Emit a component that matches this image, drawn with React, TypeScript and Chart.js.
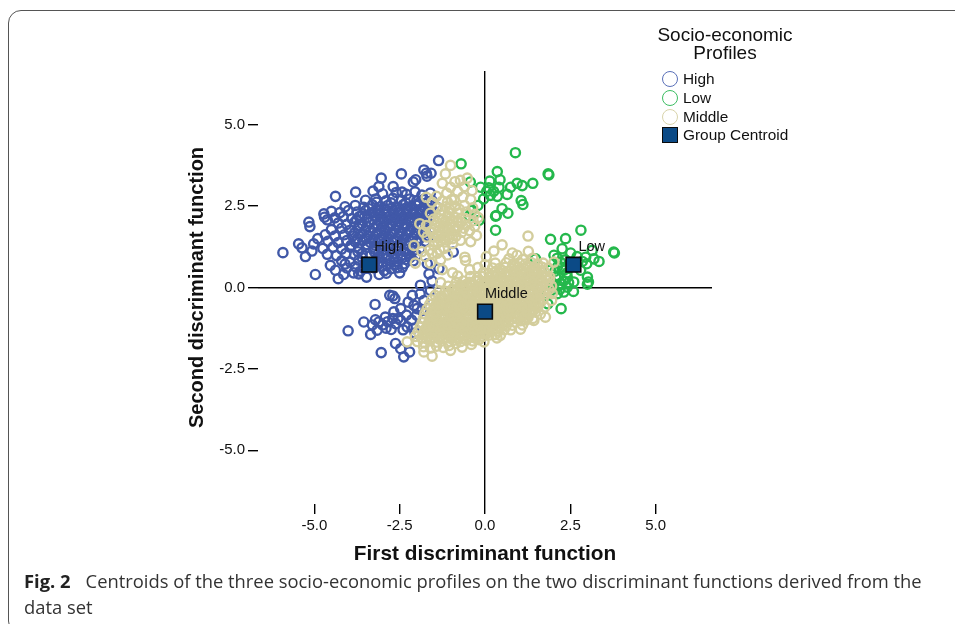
import React, { useEffect, useRef } from "react";
import { Chart, registerables } from "chart.js";

Chart.register(...registerables);

const axisTicks = [-5, -2.5, 0, 2.5, 5];
const centroidNames = ["High", "Low", "Middle"];
const centroids = [[-3.39, 0.7], [2.59, 0.7], [0.0, -0.74]];

const highOutliers = [[-1.36,3.9],[-1.79,3.61],[-1.58,3.51],[-1.72,3.51],[-1.7,3.42],[-2.45,3.49],[-3.04,3.36],[-2.03,3.31],[-2.1,3.24],[-2.69,3.1],[-3.11,3.1],[-3.79,2.93],[-3.28,2.96],[-4.38,2.8],[-2.43,2.93],[-4.72,2.26],[-4.7,2.16],[-4.62,2.08],[-5.16,2.01],[-5.13,1.87],[-5.46,1.34],[-5.92,1.07],[-5.36,1.22],[-5.26,0.95],[-5.07,1.12],[-5.02,1.34],[-4.9,1.5],[-4.97,0.4],[-4.53,0.68],[-4.38,0.53],[-4.3,0.27],[-4.14,0.4],[-3.7,0.42],[-3.47,0.32],[-2.89,0.44],[-2.57,0.61],[-2.36,0.73],[-0.93,1.09],[-1.69,0.73],[-1.35,0.58],[-1.64,0.42],[-1.55,0.2]];
const highLower = [[-2.79,-0.24],[-2.7,-0.26],[-2.64,-0.34],[-3.22,-0.52],[-1.89,0.07],[-2.13,-0.24],[-2.47,-0.65],[-2.67,-0.75],[-3.55,-1.06],[-4.01,-1.33],[-3.35,-1.44],[-3.16,-1.31],[-3.21,-0.99],[-2.92,-0.91],[-3.11,-1.06],[-2.75,-1.29],[-2.62,-1.11],[-2.28,-1.21],[-2.47,-1.01],[-1.99,-0.65],[-2.08,-0.55],[-1.79,-0.96],[-3.04,-2.0],[-2.62,-1.72],[-2.47,-1.88],[-2.38,-2.13],[-2.21,-1.98],[-1.79,-0.4],[-1.6,-0.09],[-3.0,-1.15],[-2.85,-1.05],[-2.55,-0.95],[-2.3,-0.85],[-2.15,-1.0],[-2.0,-0.85],[-2.1,-1.25],[-1.9,-0.2],[-2.25,-0.45],[-2.4,-1.3],[-2.9,-1.25],[-3.3,-1.15],[-2.7,-0.95],[-1.85,-0.7],[-2.05,-1.4]];
const highMass = [
[-3.0,2.88],[-2.6,2.92],[-2.3,2.86],[-2.05,2.94],[-1.85,2.84],[-1.6,2.9],
[-3.5,2.68],[-3.2,2.72],[-2.9,2.66],[-2.7,2.74],[-2.45,2.68],[-2.2,2.72],[-2.0,2.66],[-1.8,2.7],[-1.55,2.66],
[-4.1,2.48],[-3.8,2.52],[-3.55,2.46],[-3.3,2.54],[-3.05,2.48],[-2.85,2.52],[-2.6,2.46],[-2.4,2.54],[-2.2,2.48],[-2.0,2.52],[-1.8,2.46],[-1.6,2.52],[-1.4,2.46],
[-4.5,2.34],[-4.25,2.3],[-4.0,2.36],[-3.75,2.32],[-3.5,2.36],[-3.3,2.3],[-3.1,2.36],[-2.9,2.32],[-2.7,2.36],[-2.5,2.3],[-2.3,2.36],[-2.1,2.32],[-1.9,2.36],[-1.7,2.3],[-1.5,2.34],
[-4.4,2.14],[-4.15,2.18],[-3.9,2.12],[-3.68,2.18],[-3.45,2.14],[-3.22,2.18],[-3.0,2.12],[-2.8,2.18],[-2.6,2.14],[-2.4,2.18],[-2.2,2.12],[-2.0,2.18],[-1.8,2.14],[-1.6,2.18],
[-4.3,1.98],[-4.05,1.94],[-3.82,2.0],[-3.6,1.96],[-3.38,2.0],[-3.15,1.94],[-2.95,2.0],[-2.72,1.96],[-2.5,2.0],[-2.3,1.94],[-2.08,2.0],[-1.88,1.96],[-1.68,2.0],
[-4.5,1.78],[-4.2,1.82],[-3.95,1.76],[-3.72,1.82],[-3.5,1.78],[-3.28,1.82],[-3.05,1.76],[-2.85,1.82],[-2.62,1.78],[-2.4,1.82],[-2.18,1.76],[-1.96,1.82],[-1.75,1.78],
[-4.68,1.62],[-4.4,1.58],[-4.12,1.62],[-3.88,1.58],[-3.65,1.64],[-3.42,1.58],[-3.2,1.62],[-2.98,1.58],[-2.75,1.64],[-2.52,1.58],[-2.3,1.62],[-2.08,1.58],[-1.85,1.62],[-1.65,1.58],
[-4.6,1.42],[-4.3,1.38],[-4.05,1.44],[-3.8,1.4],[-3.58,1.44],[-3.35,1.38],[-3.12,1.44],[-2.9,1.4],[-2.68,1.44],[-2.45,1.38],[-2.22,1.44],[-2.0,1.4],[-1.75,1.42],
[-4.75,1.2],[-4.45,1.24],[-4.2,1.18],[-3.95,1.24],[-3.7,1.2],[-3.48,1.24],[-3.25,1.18],[-3.02,1.24],[-2.8,1.2],[-2.58,1.24],[-2.35,1.18],[-2.12,1.24],[-1.9,1.2],
[-4.62,1.02],[-4.35,0.98],[-4.08,1.04],[-3.82,1.0],[-3.6,1.04],[-3.35,0.98],[-3.12,1.04],[-2.9,1.0],[-2.68,1.04],[-2.45,0.98],[-2.22,1.04],[-2.0,1.0],
[-4.2,0.82],[-3.95,0.78],[-3.7,0.84],[-3.5,0.78],[-3.2,0.84],[-3.0,0.78],[-2.78,0.84],[-2.55,0.8],[-2.32,0.86],[-2.1,0.82],
[-4.05,0.6],[-3.8,0.64],[-3.55,0.58],[-3.25,0.6],[-3.02,0.64],[-2.75,0.58],[-2.5,0.45],[-3.85,0.45],[-3.1,0.4]
];
const highFill = [
[-3.18,2.62],[-2.75,2.6],[-2.32,2.6],[-1.92,2.6],[-1.7,2.58],
[-3.4,2.42],[-3.18,2.4],[-2.95,2.42],[-2.72,2.44],[-2.5,2.4],[-2.28,2.44],[-2.08,2.4],[-1.85,2.4],[-1.6,2.42],
[-3.58,2.26],[-3.12,2.26],[-2.9,2.24],[-2.68,2.26],[-2.48,2.24],[-2.28,2.26],[-2.08,2.24],[-1.88,2.26],[-1.68,2.22],
[-3.76,2.08],[-3.28,2.08],[-3.08,2.06],[-2.86,2.08],[-2.66,2.06],[-2.42,2.08],[-2.2,2.04],[-1.98,2.08],[-1.76,2.06],
[-3.68,1.9],[-3.46,1.88],[-3.0,1.88],[-2.8,1.9],[-2.56,1.88],[-2.36,1.9],[-2.14,1.88],[-1.92,1.9],[-1.72,1.88],
[-3.82,1.68],[-3.38,1.7],[-3.14,1.68],[-2.92,1.72],[-2.7,1.7],[-2.48,1.68],[-2.26,1.72],[-2.04,1.7],[-1.84,1.7],
[-3.74,1.5],[-3.5,1.52],[-3.28,1.5],[-3.06,1.5],[-2.84,1.52],[-2.6,1.5],[-2.38,1.5],[-2.14,1.52],[-1.92,1.5],
[-3.92,1.3],[-3.46,1.32],[-3.22,1.3],[-3.0,1.32],[-2.78,1.32],[-2.54,1.3],[-2.32,1.32],[-2.08,1.3],
[-3.72,1.1],[-3.24,1.1],[-3.02,1.12],[-2.78,1.1],[-2.56,1.12],[-2.34,1.1],[-2.12,1.12],
[-3.6,0.92],[-3.1,0.92],[-2.88,0.9],[-2.66,0.92],[-2.44,0.9],[-2.2,0.92],
[-4.1,0.72],[-3.12,0.72],[-2.88,0.7],[-2.66,0.7],[-2.42,0.62],[-2.95,0.52],[-3.65,0.5]
];

const lowPoints = [[0.89,4.14],[-0.7,3.8],[0.36,3.56],[1.85,3.49],[1.87,3.46],[0.44,3.31],[0.14,3.27],[1.4,3.2],[0.94,3.2],[1.09,3.13],[0.75,3.08],[-0.43,3.24],[-0.13,3.08],[0.11,3.06],[0.41,3.08],[0.65,2.86],[0.36,2.8],[0.16,2.83],[-0.04,2.72],[-0.21,2.52],[1.06,2.67],[1.11,2.55],[0.5,2.42],[0.67,2.28],[0.33,2.21],[0.31,2.19],[-0.38,2.37],[-0.18,2.06],[-0.46,2.2],[0.05,2.95],[0.25,2.95],[0.31,1.76],[2.81,1.76],[1.92,1.48],[2.36,1.5],[2.26,1.19],[2.51,1.06],[3.77,1.09],[3.79,1.06],[3.14,1.14],[3.34,0.8],[3.19,0.88],[2.98,0.73],[1.48,0.88],[2.02,0.99],[2.21,0.78],[2.12,0.63],[2.31,0.53],[1.92,0.53],[2.07,0.32],[2.41,0.32],[2.6,0.17],[2.21,0.12],[2.41,0.01],[2.31,-0.14],[2.59,-0.12],[3.0,0.32],[3.03,0.17],[3.0,0.1],[2.8,0.53],[2.95,0.93],[1.84,-0.5],[2.23,-0.65],[2.12,-0.19],[1.82,-0.19],[2.0,0.1],[2.15,0.35],[2.3,0.2],[2.05,0.5],[2.25,0.62],[2.4,0.45],[2.35,0.85],[2.12,0.9],[2.7,0.95],[2.85,0.8],[2.0,-0.05],[2.2,-0.05],[2.45,0.15],[2.15,0.05]];

const middleOutliers = [[-1.01,3.75],[-1.16,3.49],[-0.52,3.36],[-0.72,3.29],[-1.01,3.08],[-0.38,2.98],[1.26,1.58],[0.5,1.31],[0.26,1.12],[-0.25,1.6],[-0.42,1.41],[-0.72,1.45],[-0.59,0.93],[-0.57,0.83],[0.04,0.95],[-0.21,0.61],[1.27,1.11],[0.8,1.06],[0.94,0.99],[-1.33,1.16],[-1.5,1.29],[-2.04,0.75],[-2.08,1.29],[-1.91,1.96],[-1.72,2.77],[-2.28,-1.67],[-1.55,-2.11],[-1.79,-1.98],[-1.01,-1.93],[-0.67,-1.83],[1.77,-0.91],[1.43,-1.01],[1.04,-1.28],[0.45,-1.47],[-0.03,-1.67],[1.97,-0.19],[2.02,0.78],[1.82,0.32],[-1.75,0.95],[-1.85,1.1],[-1.6,0.75],[-1.3,0.85],[-1.1,1.0],[-1.55,1.05],[-1.25,0.55],[-0.95,0.45],
[1.75,-0.6],[1.62,-0.82],[1.4,-0.95],[1.1,-1.15],[0.75,-1.3],[0.35,-1.55],[-0.4,-1.75],[1.95,-0.4],[0.3,0.75],[0.0,0.7],[-0.45,0.55],[-0.8,0.35],[-1.3,0.15],[1.7,0.75],[1.85,0.6]];
const middleUpper = [
[-1.25,3.2],[-0.88,3.25],[-0.6,3.1],[-0.8,2.95],[-1.12,2.9],[-1.42,2.8],[-1.55,2.62],[-1.25,2.65],[-0.98,2.7],[-0.65,2.78],[-0.42,2.7],[-1.38,2.45],[-1.15,2.48],[-0.88,2.5],[-0.6,2.52],[-0.36,2.45],[-1.6,2.28],[-1.32,2.25],[-1.05,2.3],[-0.8,2.28],[-0.55,2.32],[-0.3,2.25],[-1.5,2.1],[-1.25,2.08],[-1.02,2.12],[-0.8,2.06],[-0.58,2.12],[-0.35,2.05],[-1.72,1.9],[-1.45,1.92],[-1.22,1.88],[-1.0,1.94],[-0.78,1.88],[-0.55,1.92],[-0.3,1.88],[-1.6,1.72],[-1.35,1.75],[-1.12,1.7],[-0.9,1.75],[-0.68,1.7],[-0.45,1.75],[-1.5,1.55],[-1.28,1.58],[-1.05,1.52],[-0.85,1.58],[-1.38,1.38],[-1.15,1.4],[-0.95,1.35],[-1.7,1.55],[-1.8,1.7],[-1.4,2.0],[-1.1,2.2],[-0.9,2.15],[-1.2,1.8],[-1.0,1.65],[-1.3,1.45],[-1.62,1.15],[-1.4,1.05],[-1.2,1.2],[-0.2,2.15],
[-1.35,2.12],[-1.18,2.02],[-0.95,2.02],[-0.7,2.0],[-1.5,1.8],[-1.3,1.68],[-1.08,1.82],[-0.88,1.85],[-0.62,1.82],[-1.42,1.62],[-1.18,1.6],[-0.95,1.5],[-1.2,1.5],[-1.48,1.42],[-1.05,2.42],[-0.75,2.4],[-1.25,2.38],[-0.9,2.7],[-1.1,2.62]
];
const middleMass = [
[-1.8,-1.82],[-1.6,-1.86],[-1.42,-1.8],[-1.22,-1.84],[-1.05,-1.78],[-0.85,-1.72],
[-1.98,-1.66],[-1.8,-1.68],[-1.62,-1.64],[-1.44,-1.68],[-1.26,-1.64],[-1.08,-1.68],[-0.9,-1.62],[-0.72,-1.66],[-0.54,-1.62],[-0.36,-1.64],[-0.18,-1.6],
[-2.04,-1.5],[-1.86,-1.54],[-1.68,-1.5],[-1.5,-1.54],[-1.32,-1.5],[-1.14,-1.54],[-0.96,-1.5],[-0.78,-1.52],[-0.6,-1.48],[-0.42,-1.52],[-0.24,-1.48],[-0.06,-1.5],[0.12,-1.46],[0.3,-1.44],
[-1.96,-1.36],[-1.78,-1.38],[-1.6,-1.36],[-1.42,-1.38],[-1.24,-1.36],[-1.06,-1.38],[-0.88,-1.36],[-0.7,-1.38],[-0.52,-1.34],[-0.34,-1.38],[-0.16,-1.34],[0.02,-1.36],[0.2,-1.32],[0.38,-1.34],[0.56,-1.3],
[-1.9,-1.22],[-1.72,-1.24],[-1.54,-1.2],[-1.36,-1.24],[-1.18,-1.2],[-1.0,-1.24],[-0.82,-1.2],[-0.64,-1.24],[-0.46,-1.2],[-0.28,-1.24],[-0.1,-1.2],[0.08,-1.22],[0.26,-1.18],[0.44,-1.22],[0.62,-1.18],[0.8,-1.16],
[-1.84,-1.08],[-1.66,-1.1],[-1.48,-1.06],[-1.3,-1.1],[-1.12,-1.06],[-0.94,-1.1],[-0.76,-1.06],[-0.58,-1.1],[-0.4,-1.06],[-0.22,-1.1],[-0.04,-1.06],[0.14,-1.08],[0.32,-1.04],[0.5,-1.08],[0.68,-1.04],[0.86,-1.06],[1.04,-1.02],[1.2,-1.0],
[-1.8,-0.94],[-1.62,-0.96],[-1.44,-0.92],[-1.26,-0.96],[-1.08,-0.92],[-0.9,-0.96],[-0.72,-0.92],[-0.54,-0.96],[-0.36,-0.92],[-0.18,-0.96],[0.0,-0.92],[0.18,-0.94],[0.36,-0.9],[0.54,-0.94],[0.72,-0.9],[0.9,-0.94],[1.08,-0.9],[1.26,-0.92],
[-1.76,-0.8],[-1.58,-0.82],[-1.4,-0.78],[-1.22,-0.82],[-1.04,-0.78],[-0.86,-0.82],[-0.68,-0.78],[-0.5,-0.82],[-0.32,-0.78],[-0.14,-0.82],[0.04,-0.78],[0.22,-0.8],[0.4,-0.76],[0.58,-0.8],[0.76,-0.76],[0.94,-0.8],[1.12,-0.76],[1.3,-0.8],[1.48,-0.76],
[-1.7,-0.66],[-1.52,-0.68],[-1.34,-0.64],[-1.16,-0.68],[-0.98,-0.64],[-0.8,-0.68],[-0.62,-0.64],[-0.44,-0.68],[-0.26,-0.64],[-0.08,-0.68],[0.1,-0.64],[0.28,-0.66],[0.46,-0.62],[0.64,-0.66],[0.82,-0.62],[1.0,-0.66],[1.18,-0.62],[1.36,-0.66],[1.54,-0.62],
[-1.62,-0.52],[-1.44,-0.54],[-1.26,-0.5],[-1.08,-0.54],[-0.9,-0.5],[-0.72,-0.54],[-0.54,-0.5],[-0.36,-0.54],[-0.18,-0.5],[0.0,-0.54],[0.18,-0.5],[0.36,-0.52],[0.54,-0.48],[0.72,-0.52],[0.9,-0.48],[1.08,-0.52],[1.26,-0.48],[1.44,-0.52],[1.62,-0.48],
[-1.56,-0.38],[-1.38,-0.4],[-1.2,-0.36],[-1.02,-0.4],[-0.84,-0.36],[-0.66,-0.4],[-0.48,-0.36],[-0.3,-0.4],[-0.12,-0.36],[0.06,-0.4],[0.24,-0.36],[0.42,-0.38],[0.6,-0.34],[0.78,-0.38],[0.96,-0.34],[1.14,-0.38],[1.32,-0.34],[1.5,-0.38],[1.7,-0.36],
[-1.46,-0.24],[-1.28,-0.26],[-1.1,-0.22],[-0.92,-0.26],[-0.74,-0.22],[-0.56,-0.26],[-0.38,-0.22],[-0.2,-0.26],[-0.02,-0.22],[0.16,-0.26],[0.34,-0.22],[0.52,-0.24],[0.7,-0.2],[0.88,-0.24],[1.06,-0.2],[1.24,-0.24],[1.42,-0.2],[1.6,-0.24],[1.78,-0.2],
[-1.34,-0.1],[-1.16,-0.12],[-0.98,-0.08],[-0.8,-0.12],[-0.62,-0.08],[-0.44,-0.12],[-0.26,-0.08],[-0.08,-0.12],[0.1,-0.08],[0.28,-0.12],[0.46,-0.08],[0.64,-0.1],[0.82,-0.06],[1.0,-0.1],[1.18,-0.06],[1.36,-0.1],[1.54,-0.06],[1.72,-0.1],[1.88,-0.06],
[-1.08,0.04],[-0.9,0.02],[-0.72,0.06],[-0.54,0.02],[-0.36,0.06],[-0.18,0.02],[0.0,0.06],[0.18,0.02],[0.36,0.06],[0.54,0.04],[0.72,0.08],[0.9,0.04],[1.08,0.08],[1.26,0.04],[1.44,0.08],[1.62,0.04],[1.8,0.08],[1.95,0.04],
[-0.84,0.16],[-0.64,0.2],[-0.46,0.16],[-0.28,0.2],[-0.1,0.16],[0.08,0.2],[0.26,0.16],[0.44,0.2],[0.62,0.18],[0.8,0.22],[0.98,0.18],[1.16,0.22],[1.34,0.18],[1.52,0.22],[1.7,0.18],[1.88,0.22],
[-0.42,0.34],[-0.22,0.3],[-0.04,0.34],[0.14,0.3],[0.32,0.34],[0.5,0.3],[0.68,0.34],[0.86,0.3],[1.04,0.34],[1.22,0.3],[1.4,0.34],[1.58,0.3],[1.76,0.34],[1.9,0.32],
[-0.05,0.46],[0.12,0.44],[0.3,0.48],[0.48,0.44],[0.66,0.48],[0.84,0.44],[1.02,0.48],[1.2,0.44],[1.38,0.48],[1.56,0.44],[1.74,0.48],
[0.22,0.6],[0.42,0.58],[0.6,0.62],[0.78,0.58],[0.96,0.62],[1.14,0.58],[1.32,0.62],[1.5,0.58],[1.68,0.62],
[0.62,0.76],[0.82,0.72],[1.0,0.76],[1.18,0.72],[1.36,0.76],[1.54,0.72],[0.7,0.88],[1.1,0.86],[1.4,0.9]
];
const middleFill = [
[-1.72,-1.57],[-1.35,-1.58],[-0.99,-1.57],[-0.63,-1.56],[-0.27,-1.56],
[-1.77,-1.45],[-1.41,-1.45],[-1.05,-1.45],[-0.69,-1.45],[-0.33,-1.45],[0.03,-1.43],
[-1.67,-1.31],[-1.49,-1.29],[-1.31,-1.31],[-1.13,-1.29],[-0.95,-1.31],[-0.77,-1.29],[-0.59,-1.31],[-0.41,-1.28],[-0.23,-1.3],[-0.05,-1.28],[0.13,-1.3],[0.31,-1.27],
[-1.63,-1.17],[-1.27,-1.17],[-1.09,-1.14],[-0.91,-1.17],[-0.55,-1.17],[-0.37,-1.14],[-0.19,-1.17],[0.17,-1.15],[0.35,-1.12],[0.53,-1.15],
[-1.57,-1.03],[-1.39,-1.0],[-1.03,-1.0],[-0.85,-1.03],[-0.67,-1.0],[-0.31,-1.0],[-0.13,-1.03],[0.05,-1.0],[0.41,-0.98],[0.59,-1.01],[0.77,-0.98],[1.13,-0.97],
[-1.52,-0.89],[-1.16,-0.89],[-0.98,-0.86],[-0.8,-0.89],[-0.44,-0.89],[-0.26,-0.86],[-0.08,-0.89],[0.28,-0.87],[0.46,-0.84],[0.64,-0.87],[1.0,-0.87],[1.18,-0.84],
[-1.47,-0.75],[-1.29,-0.72],[-0.93,-0.72],[-0.75,-0.75],[-0.57,-0.72],[-0.21,-0.72],[-0.03,-0.75],[0.15,-0.72],[0.51,-0.7],[0.69,-0.73],[0.87,-0.7],[1.23,-0.7],[1.41,-0.73],
[-1.37,-0.61],[-1.01,-0.61],[-0.83,-0.58],[-0.65,-0.61],[-0.29,-0.61],[-0.11,-0.58],[0.07,-0.61],[0.43,-0.59],[0.61,-0.56],[0.79,-0.59],[1.15,-0.59],[1.33,-0.56],
[-1.32,-0.47],[-1.14,-0.44],[-0.78,-0.44],[-0.6,-0.47],[-0.42,-0.44],[-0.06,-0.44],[0.12,-0.47],[0.3,-0.44],[0.66,-0.42],[0.84,-0.45],[1.02,-0.42],[1.38,-0.42],[1.56,-0.45],
[-1.22,-0.33],[-0.86,-0.33],[-0.68,-0.3],[-0.5,-0.33],[-0.14,-0.33],[0.04,-0.3],[0.22,-0.33],[0.58,-0.31],[0.76,-0.28],[0.94,-0.31],[1.3,-0.31],[1.48,-0.28],
[-1.07,-0.19],[-0.89,-0.16],[-0.53,-0.16],[-0.35,-0.19],[-0.17,-0.16],[0.19,-0.16],[0.37,-0.19],[0.55,-0.16],[0.91,-0.14],[1.09,-0.17],[1.27,-0.14],[1.63,-0.14],
[-0.82,-0.05],[-0.64,-0.02],[-0.28,-0.02],[-0.1,-0.05],[0.08,-0.02],[0.44,-0.02],[0.62,-0.03],[0.8,0.0],[1.16,0.0],[1.34,-0.03],[1.52,0.0],
[-0.55,0.09],[-0.37,0.12],[-0.01,0.12],[0.17,0.09],[0.35,0.12],[0.71,0.14],[0.89,0.11],[1.07,0.14],[1.43,0.14],[1.61,0.11],
[-0.17,0.23],[0.19,0.23],[0.37,0.26],[0.55,0.25],[0.91,0.25],[1.09,0.28],[1.27,0.25],[1.63,0.25],
[0.21,0.37],[0.57,0.39],[0.75,0.42],[1.11,0.42],[1.29,0.39],[1.47,0.42],
[0.51,0.52],[0.87,0.52],[1.05,0.55],[1.41,0.55],[0.88,0.66],[1.24,0.66]
];

const toXY = (pts: number[][]) => pts.map(([x, y]) => ({ x, y }));

const ARIAL = '"Liberation Sans", Arial, sans-serif';

const centroidLabels = {
  id: "centroidLabels",
  afterDatasetsDraw(chart: any) {
    const { ctx, scales } = chart;
    ctx.save();
    ctx.font = `14.5px ${ARIAL}`;
    ctx.fillStyle = "#111";
    ctx.textBaseline = "alphabetic";
    centroids.forEach(([x, y], i) => {
      ctx.fillText(centroidNames[i], scales.x.getPixelForValue(x) + (i === 2 ? 0 : 5), scales.y.getPixelForValue(y) - 14);
    });
    ctx.restore();
  },
};

const makeAxis = (title: any, fit: any) => ({
  type: "linear",
  min: -6.65,
  max: 6.65,
  afterBuildTicks: (s: any) => { s.ticks = axisTicks.map((value) => ({ value })); },
  afterFit: fit,
  border: { display: false },
  grid: {
    color: (c: any) => (c.tick && c.tick.value === 0 ? "#000" : "rgba(0,0,0,0)"),
    tickColor: "#000",
    tickLength: 10,
    lineWidth: 1.4,
    drawTicks: true,
  },
  ticks: {
    color: "#111",
    font: { family: ARIAL, size: 15 },
    padding: 3,
    maxRotation: 0,
    callback: (v: any) => Number(v).toFixed(1),
  },
  title,
});

export default function App() {
  const ref = useRef<HTMLCanvasElement>(null);
  useEffect(() => {
    const ring = (label: string, data: number[][], color: string, order: number) => ({
      label,
      data: toXY(data),
      order,
      showLine: false,
      pointStyle: "circle",
      pointRadius: 4.6,
      pointBorderWidth: 2.4,
      pointBackgroundColor: "rgba(0,0,0,0)",
      pointBorderColor: color,
    });
    const chart = new Chart(ref.current as HTMLCanvasElement, {
      type: "scatter",
      data: {
        datasets: [
          {
            label: "Group Centroid",
            data: toXY(centroids),
            order: 0,
            pointStyle: "rect",
            pointRadius: 10.4,
            pointBorderWidth: 1.6,
            pointBackgroundColor: "#0b4a86",
            pointBorderColor: "#0a0a0a",
          },
          ring("Middle", [...middleMass, ...middleFill, ...middleUpper, ...middleOutliers], "#d3cd9c", 1),
          ring("Low", lowPoints, "#25b84c", 2),
          ring("High", [...highMass, ...highFill, ...highLower, ...highOutliers], "#4058a8", 3),
        ],
      } as any,
      options: {
        responsive: false,
        animation: false,
        layout: { padding: { left: 185, right: 243, top: 71, bottom: 57 } },
        plugins: { legend: { display: false }, tooltip: { enabled: false } },
        scales: {
          x: makeAxis(
            { display: true, text: "First discriminant function", color: "#111", font: { family: ARIAL, size: 20.8, weight: "bold" }, padding: { top: 0, bottom: 0 } },
            (s: any) => { s.height = 63; }
          ),
          y: makeAxis(
            { display: true, text: "Second discriminant function", color: "#111", font: { family: ARIAL, size: 20, weight: "bold" }, padding: { top: 0, bottom: 0 } },
            (s: any) => { s.width = 73; }
          ),
        },
      } as any,
      plugins: [centroidLabels],
    } as any);
    return () => chart.destroy();
  }, []);

  const legendRow = (top: number, label: string, swatch: any) => (
    <div key={label} style={{ position: "absolute", left: 662, top, height: 18, lineHeight: "18px", fontSize: 15.4, whiteSpace: "nowrap", color: "#111" }}>
      <span style={{ position: "absolute", left: 0, top: 1, width: 16, height: 16, boxSizing: "border-box", ...swatch }} />
      <span style={{ position: "absolute", left: 21 }}>{label}</span>
    </div>
  );

  return (
    <div style={{ position: "fixed", left: 0, top: 0, width: 955, height: 624, overflow: "hidden", background: "#fff", fontFamily: ARIAL }}>
      <div style={{ position: "absolute", left: 8, top: 10, width: 1000, height: 624, boxSizing: "border-box", border: "1.5px solid #555", borderRadius: 13 }} />
      <canvas ref={ref} width={955} height={624} style={{ position: "absolute", left: 0, top: 0, display: "block" }} />
      <div style={{ position: "absolute", left: 625, width: 200, top: 26, textAlign: "center", fontSize: 19, lineHeight: "18px", color: "#111" }}>
        Socio-economic<br />Profiles
      </div>
      {legendRow(70, "High", { border: "1.5px solid #5a70b8", borderRadius: "50%" })}
      {legendRow(89, "Low", { border: "1.5px solid #3cbd62", borderRadius: "50%" })}
      {legendRow(108, "Middle", { border: "1.5px solid #d8d3aa", borderRadius: "50%" })}
      {legendRow(126, "Group Centroid", { background: "#0b4a86", border: "1.5px solid #0a0a0a" })}
      <div style={{ position: "absolute", left: 24, top: 568, width: 930, fontFamily: '"Open Sans", "Noto Sans", sans-serif', fontSize: 18.36, lineHeight: "26px", color: "#333" }}>
        <b style={{ marginRight: 15, color: "#222" }}>Fig. 2</b>Centroids of the three socio-economic profiles on the two discriminant functions derived from the<br />data set
      </div>
    </div>
  );
}
